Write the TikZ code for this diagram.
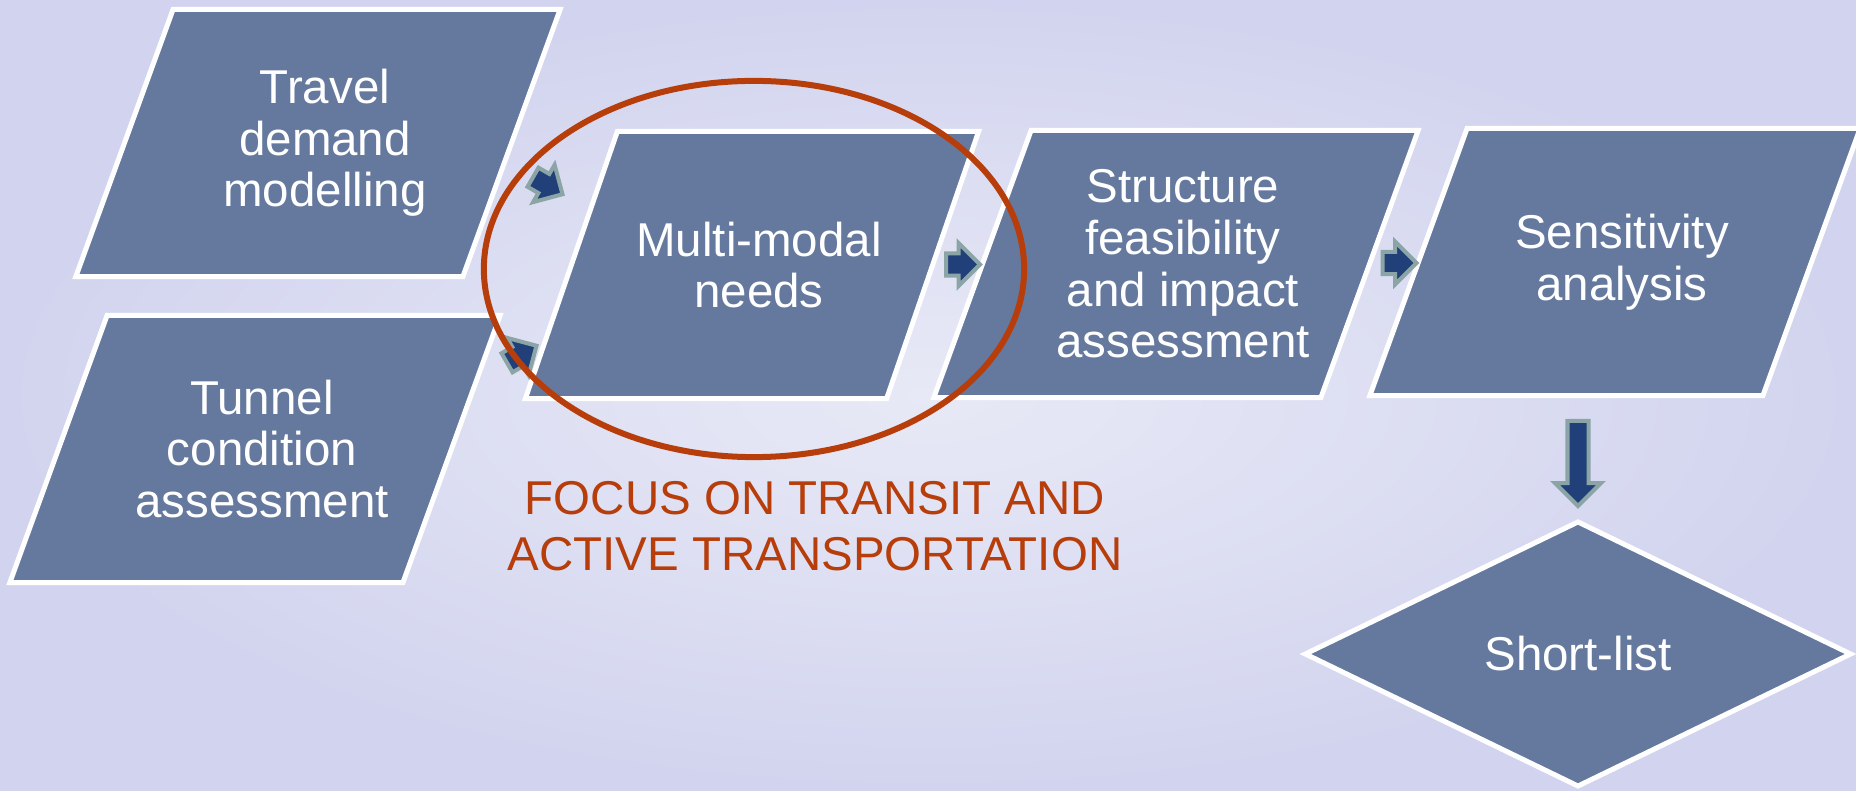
\documentclass[tikz,border=0pt]{standalone}
\usepackage{fontspec}
\setmainfont{Liberation Sans}
\usepackage{tikz}
\usetikzlibrary{shapes.geometric,shapes.arrows,calc}
\definecolor{bglight}{HTML}{E8E9F6}
\definecolor{bgdark}{HTML}{D2D4EF}
\definecolor{boxblue}{HTML}{65799E}
\definecolor{arrnavy}{HTML}{213F78}
\definecolor{arrgrey}{HTML}{8BA5A7}
\definecolor{rust}{HTML}{B73D0B}

\begin{document}
\begin{tikzpicture}[x=0.01cm, y=-0.01cm,
  every node/.style={font=\fontsize{13.5}{14.7}\selectfont},
  % fixed-height text block, so the slant comes out the same on every step
  procbox/.style={trapezium, trapezium left angle=70, trapezium right angle=110, trapezium stretches body=true, draw=white, line width=0.05cm, fill=boxblue, text=white, minimum width=4.84cm, inner sep=0pt,
    execute at begin node={\begin{minipage}[c][2.67cm][c]{2.6cm}\centering\leftskip=0.07cm plus 1fil\rightskip=-0.07cm plus 1fil},
    execute at end node={\end{minipage}}},
  blockarr/.style={single arrow, fill=arrnavy, draw=arrgrey, line width=0.04cm, minimum height=0.34cm, inner xsep=0pt, inner ysep=0.09cm, single arrow head extend=0.105cm}]
  \useasboundingbox (0,0) rectangle (1856,791);
  \fill[inner color=bglight, outer color=bgdark] (0,0) rectangle (1856,791);

  % process steps
  \node[procbox] (travel) at (318,143) {Travel\\demand\\modelling};
  \node[procbox, minimum width=4.90cm] (tunnel) at (255,449) {Tunnel\\condition\\assessment};
  \node[procbox, minimum width=4.53cm, trapezium left angle=71, trapezium right angle=109] (multi) at (752,265) {Multi-modal\\needs};
  \node[procbox] (struct) at (1176,264) {Structure\\feasibility\\and impact\\assessment};
  \node[procbox, minimum width=4.90cm] (sens) at (1615,262) {Sensitivity\\analysis};
  \node[diamond, draw=white, line width=0.05cm, fill=boxblue, text=white, minimum width=5.47cm, minimum height=2.66cm, inner sep=0pt] (short) at (1578,654) {Short-list};

  % block arrows between the steps
  \node[blockarr, rotate=-30] (a1) at (543,183) {};
  \node[blockarr, rotate=30] (a2) at (517,357) {};
  \path (multi.east) -- node[blockarr] (a3) {} (struct.west);
  \path (struct.east) -- node[blockarr] (a4) {} (sens.west);
  \path (short.north |- sens.south) -- node[blockarr, rotate=-90, minimum height=0.85cm, inner ysep=0.085cm, single arrow head extend=0.125cm] (a5) {} (short.north);

  % highlight ring and its note
  \draw[rust, line width=0.06cm] (754,269) ellipse [x radius=2.70cm, y radius=1.88cm];
  \node[text=rust, align=center, font=\fontsize{13.5}{16.1}\selectfont] (focus) at (815,526) {FOCUS ON TRANSIT AND\\ACTIVE TRANSPORTATION};
\end{tikzpicture}
\end{document}
